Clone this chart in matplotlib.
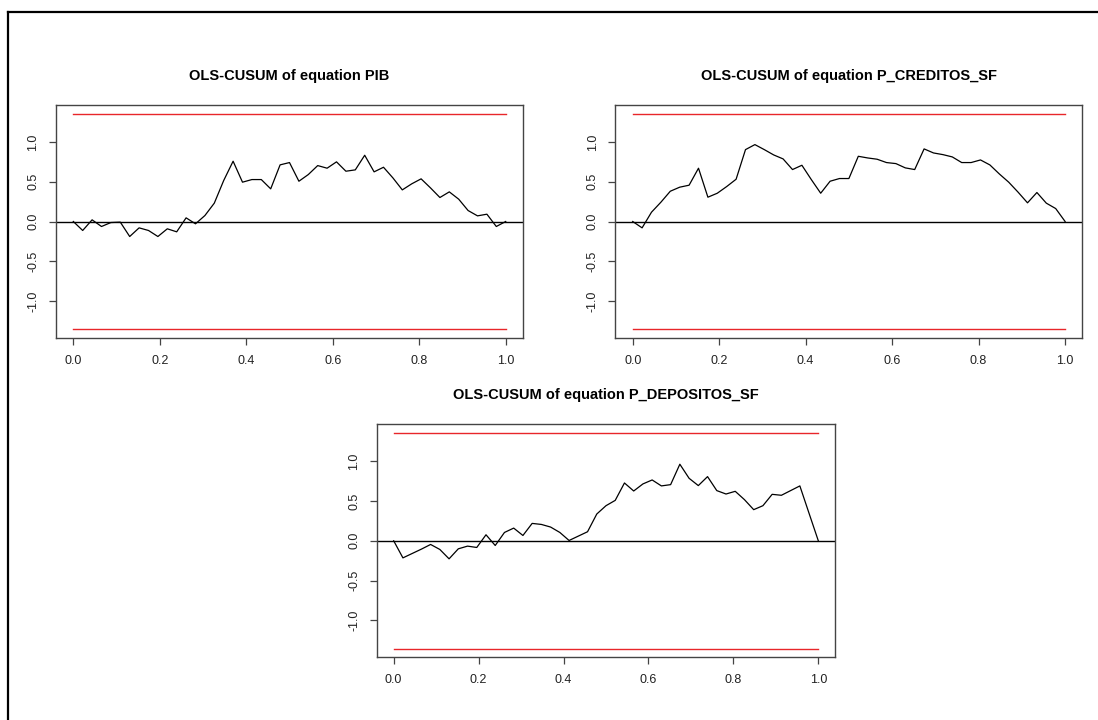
import numpy as np
import matplotlib
matplotlib.use("Agg")
import matplotlib.pyplot as plt
from matplotlib.lines import Line2D

plt.rcParams['font.family'] = ['Liberation Sans', 'DejaVu Sans']

# ---- data ----
titles = ["OLS-CUSUM of equation PIB",
          "OLS-CUSUM of equation P_CREDITOS_SF",
          "OLS-CUSUM of equation P_DEPOSITOS_SF"]

cusum_pib = [0.000, -0.113, 0.021, -0.063, -0.013, -0.008, -0.189, -0.080, -0.113, -0.189,
             -0.092, -0.130, 0.046, -0.029, 0.075, 0.231, 0.516, 0.759, 0.495, 0.528,
             0.528, 0.411, 0.713, 0.742, 0.507, 0.591, 0.704, 0.671, 0.751, 0.633,
             0.650, 0.834, 0.625, 0.683, 0.549, 0.398, 0.474, 0.537, 0.423, 0.302,
             0.373, 0.281, 0.138, 0.071, 0.092, -0.063, 0.000]

cusum_cred = [0.000, -0.080, 0.117, 0.243, 0.381, 0.432, 0.457, 0.671, 0.306, 0.356,
              0.440, 0.532, 0.905, 0.968, 0.905, 0.838, 0.788, 0.654, 0.708, 0.528,
              0.356, 0.507, 0.541, 0.541, 0.821, 0.800, 0.784, 0.742, 0.729, 0.675,
              0.654, 0.914, 0.863, 0.842, 0.813, 0.742, 0.742, 0.775, 0.712, 0.599,
              0.495, 0.369, 0.235, 0.365, 0.231, 0.163, 0.000]

cusum_dep = [0.000, -0.215, -0.160, -0.105, -0.046, -0.109, -0.227, -0.101, -0.067, -0.084,
             0.076, -0.059, 0.105, 0.160, 0.067, 0.219, 0.206, 0.173, 0.105, 0.004,
             0.059, 0.114, 0.337, 0.442, 0.509, 0.728, 0.627, 0.716, 0.766, 0.691,
             0.707, 0.964, 0.787, 0.695, 0.808, 0.632, 0.589, 0.623, 0.518, 0.392,
             0.442, 0.585, 0.573, 0.632, 0.691, 0.345, 0.000]

series = [cusum_pib, cusum_cred, cusum_dep]
boundary = 1.358
x_ticks = [0.0, 0.2, 0.4, 0.6, 0.8, 1.0]
x_ticklabels = ["0.0", "0.2", "0.4", "0.6", "0.8", "1.0"]
y_ticks = [-1.0, -0.5, 0.0, 0.5, 1.0]
y_ticklabels = ["-1.0", "-0.5", "0.0", "0.5", "1.0"]

# ---- figure ----
W, H = 1098, 720
fig = plt.figure(figsize=(W / 100, H / 100), dpi=100)

def px_axes(left, top, right, bottom):
    return [left / W, 1 - bottom / H, (right - left) / W, (bottom - top) / H]

rects = [px_axes(56, 105, 523, 338),
         px_axes(615.4, 105, 1082.4, 338),
         px_axes(376.7, 424.3, 835.3, 657.3)]

for rect, title, y in zip(rects, titles, series):
    ax = fig.add_axes(rect)
    x = np.linspace(0, 1, len(y))
    ax.plot(x, y, color='black', lw=0.9)
    ax.axhline(0, color='black', lw=1.0)
    ax.plot([0, 1], [boundary, boundary], color='#e8262a', lw=1.0)
    ax.plot([0, 1], [-boundary, -boundary], color='#e8262a', lw=1.0)
    ax.set_xlim(-0.04, 1.04)
    ax.set_ylim(-boundary * 1.08, boundary * 1.08)
    ax.set_xticks(x_ticks)
    ax.set_xticklabels(x_ticklabels)
    ax.set_yticks(y_ticks)
    ax.set_yticklabels(y_ticklabels, rotation=90, va='center')
    for s in ax.spines.values():
        s.set_color('#444444')
        s.set_linewidth(1.0)
    ax.tick_params(axis='both', length=5, width=0.9, color='#444444',
                   labelsize=9, labelcolor='#222222', pad=7)
    ax.text(0.5, 1 + 29 / 233, title, transform=ax.transAxes, ha='center',
            va='center', fontsize=10.5, fontweight='bold')

# outer border (top and left edges)
fig.add_artist(Line2D([8 / W, 1.0], [1 - 12 / H, 1 - 12 / H], color='black',
                      lw=1.6, transform=fig.transFigure))
fig.add_artist(Line2D([8 / W, 8 / W], [0.0, 1 - 12 / H], color='black',
                      lw=1.6, transform=fig.transFigure))

fig.savefig("out.png", dpi=100)
